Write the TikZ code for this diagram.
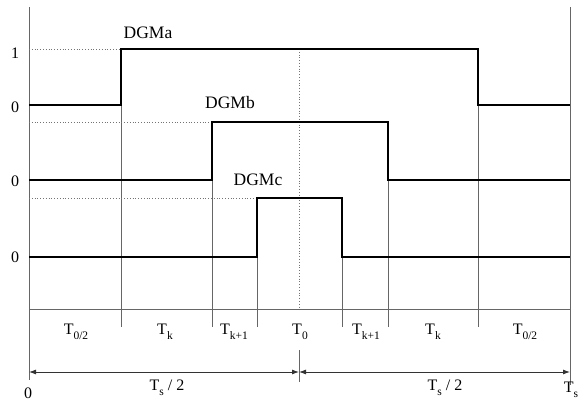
\documentclass[tikz,border=0pt]{standalone}
\usepackage{fontspec}
\setmainfont{Liberation Serif}
\usetikzlibrary{arrows.meta}
\newcommand{\tsub}[1]{\raisebox{-4.5pt}{\fontsize{11.5}{11.5}\selectfont #1}}
\begin{document}
\begin{tikzpicture}[x=1pt,y=-1pt,
  grid/.style={draw=black!60, line width=0.8pt},
  guide/.style={draw=black!55, line width=0.8pt, dotted},
  signal/.style={draw=black, line width=2.6pt, line join=miter},
  lbl/.style={font=\fontsize{17.5}{17.5}\selectfont, inner sep=0pt},
  lvl/.style={font=\fontsize{16}{16}\selectfont, inner sep=0pt},
  tm/.style={font=\fontsize{16}{16}\selectfont, inner sep=0pt},
  span/.style={draw=black!80, line width=0.9pt, {Latex[length=7pt,width=5pt]}-{Latex[length=7pt,width=5pt]}}]
\useasboundingbox (0,0) rectangle (581,403);

% axes and base line
\draw[grid] (29,7) -- (29,380);
\draw[grid] (570,7) -- (570,385);
\draw[grid] (29,309) -- (570,309);

% instant markers
\draw[grid] (121,49) -- (121,327);
\draw[grid] (212,122) -- (212,327);
\draw[grid] (257,198) -- (257,327);
\draw[grid] (342,198) -- (342,327);
\draw[grid] (388,122) -- (388,327);
\draw[grid] (478,49) -- (478,327);
\draw[guide] (299,49) -- (299,309);
\draw[grid] (299,350) -- (299,382);

% level guides
\draw[guide] (29,49) -- (121,49);
\draw[guide] (29,122) -- (212,122);
\draw[guide] (29,198) -- (257,198);

% gate signals
\draw[signal] (29,105) -- (121,105) -- (121,49) -- (478,49) -- (478,105) -- (570,105);
\draw[signal] (29,180) -- (212,180) -- (212,122) -- (388,122) -- (388,180) -- (570,180);
\draw[signal] (29,257) -- (257,257) -- (257,198) -- (342,198) -- (342,257) -- (570,257);

\node[lbl] (la) at (148,33) {DGMa};
\node[lbl] (lb) at (230,103) {DGMb};
\node[lbl] (lc) at (258,180) {DGMc};

\node[lvl] (v1) at (15,53) {1};
\node[lvl] (v2) at (15,107) {0};
\node[lvl] (v3) at (15,181) {0};
\node[lvl] (v4) at (15,257) {0};

% interval labels
\node[tm] (t1) at (76,332) {T\tsub{0/2}};
\node[tm] (t2) at (165,332) {T\tsub{k}};
\node[tm] (t3) at (234,332) {T\tsub{k+1}};
\node[tm] (t4) at (300,332) {T\tsub{0}};
\node[tm] (t5) at (366,332) {T\tsub{k+1}};
\node[tm] (t6) at (433,332) {T\tsub{k}};
\node[tm] (t7) at (525,332) {T\tsub{0/2}};

% half-period spans
\coordinate (s0) at (29,372);
\coordinate (sm) at (299,372);
\coordinate (s1) at (570,372);
\draw[span] (s0) -- (sm);
\draw[span] (sm) -- (s1);
\node[tm] (h1) at (167,388) {T\tsub{s} / 2};
\node[tm] (h2) at (445,388) {T\tsub{s} / 2};
\node[lvl] (z) at (28,393) {0};
\node[tm] (ts) at (571,390) {T\tsub{s}};
\end{tikzpicture}
\end{document}
